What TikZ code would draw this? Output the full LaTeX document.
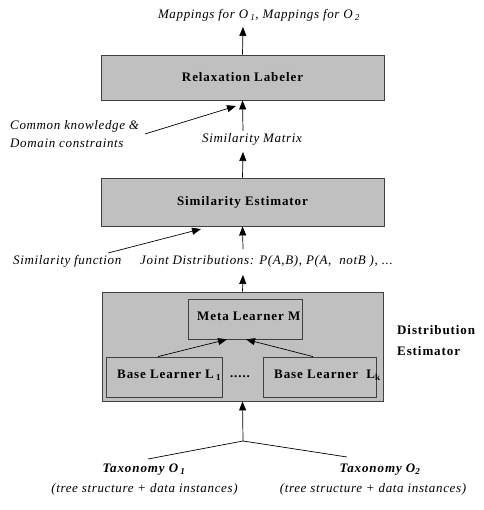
\documentclass[tikz,border=0pt]{standalone}
\usepackage{fontspec}
\setmainfont{Liberation Serif}
\newfontfamily\lsit[LetterSpace=5]{Liberation Serif}
\newfontfamily\lsbf[LetterSpace=7]{Liberation Serif}
\usetikzlibrary{arrows.meta}
\definecolor{boxgray}{HTML}{C0C0C0}
\definecolor{edgegray}{HTML}{404040}
\begin{document}
\begin{tikzpicture}[x=1pt,y=-1pt,
  box/.style={draw=edgegray, fill=boxgray, line width=0.9pt, inner sep=0pt},
  inbox/.style={draw=edgegray, fill=boxgray, line width=0.8pt, inner sep=0pt},
  arr/.style={-{Triangle[length=9pt,width=7pt]}, line width=0.7pt},
  ln/.style={line width=0.7pt},
  itl/.style={font=\lsit\itshape\fontsize{13}{15}\selectfont, inner sep=0pt},
  bld/.style={font=\lsbf\bfseries\fontsize{13}{15}\selectfont, inner sep=0pt},
  bit/.style={font=\lsbf\bfseries\itshape\fontsize{13}{15}\selectfont, inner sep=0pt}]
\useasboundingbox[fill=white] (0,0) rectangle (483,510);

% top output text
\node[itl] (out) at (259,15) {Mappings for O\,\textsubscript{1}, Mappings for O\,\textsubscript{2}};
\coordinate (outtip) at (243,27);

% Relaxation labeler
\node[box, bld, minimum width=283pt, minimum height=45pt] (rl) at (242.5,77.5) {Relaxation Labeler};
\draw[arr] (rl.north) -- (outtip);

% Similarity Matrix
\node[itl] (sm) at (252,139) {Similarity Matrix};
\coordinate (smtop) at (243,131);
\coordinate (smbot) at (243,152);
\draw[arr] (smtop) -- (rl.south);

% Common knowledge
\node[itl, anchor=west] (ck1) at (10,126) {Common knowledge \&};
\node[itl, anchor=west] (ck2) at (10,143) {Domain constraints};
\coordinate (ckst) at (145,134);
\coordinate (cktip) at (236,106);
\draw[arr] (ckst) -- (cktip);

% Similarity Estimator
\node[box, bld, minimum width=283pt, minimum height=48pt] (se) at (242.5,202) {Similarity Estimator};
\draw[arr] (se.north) -- (smbot);

% Joint distributions
\node[itl, anchor=west] (sf) at (13,261) {Similarity function};
\node[itl, anchor=west] (jd) at (140,261) {Joint Distributions: P(A,B), P(A,~~notB~), ...};
\coordinate (jdtop) at (243,249);
\coordinate (jdbot) at (243,275);
\draw[arr] (jdtop) -- (se.south);
\coordinate (sfst) at (108,253);
\coordinate (sftip) at (201,229);
\draw[arr] (sfst) -- (sftip);

% Distribution Estimator
\node[box, minimum width=281pt, minimum height=109pt] (de) at (242.5,346.5) {};
\draw[arr] (de.north) -- (jdbot);
\node[inbox, minimum width=114pt, minimum height=40pt] (meta) at (245,319) {};
\node[bld, anchor=west] (metat) at (197,316) {Meta Learner M};
\node[inbox, minimum width=116pt, minimum height=40pt] (b1) at (164,377) {};
\node[bld, anchor=west] (b1t) at (117,375) {Base Learner L\,\textsubscript{1}};
\node[inbox, minimum width=113pt, minimum height=40pt] (bk) at (319.5,377) {};
\node[bld, anchor=west] (bkt) at (274,375) {Base Learner~~L\textsubscript{k}};
\node[bld] (dots) at (240,377) {.....};
\draw[arr] ([xshift=-6pt]b1.north) -- ([xshift=-18pt]meta.south);
\draw[arr] ([xshift=-6.5pt]bk.north) -- ([xshift=1pt]meta.south);
\node[bld, anchor=west] (de1) at (397,330) {Distribution};
\node[bld, anchor=west] (de2) at (397,351) {Estimator};

% inputs
\coordinate (fork) at (243,441);
\coordinate (l1) at (148,459);
\coordinate (l2) at (347,457);
\draw[arr] (fork) -- (de.south);
\draw[ln] (l1) -- (fork) -- (l2);
\node[bit] (t1) at (144,470) {Taxonomy O\,\textsubscript{1}};
\node[itl] (t1b) at (144.5,489) {(tree structure + data instances)};
\node[bit] (t2) at (380,470) {Taxonomy O\textsubscript{2}};
\node[itl] (t2b) at (373,489) {(tree structure + data instances)};
\end{tikzpicture}
\end{document}
